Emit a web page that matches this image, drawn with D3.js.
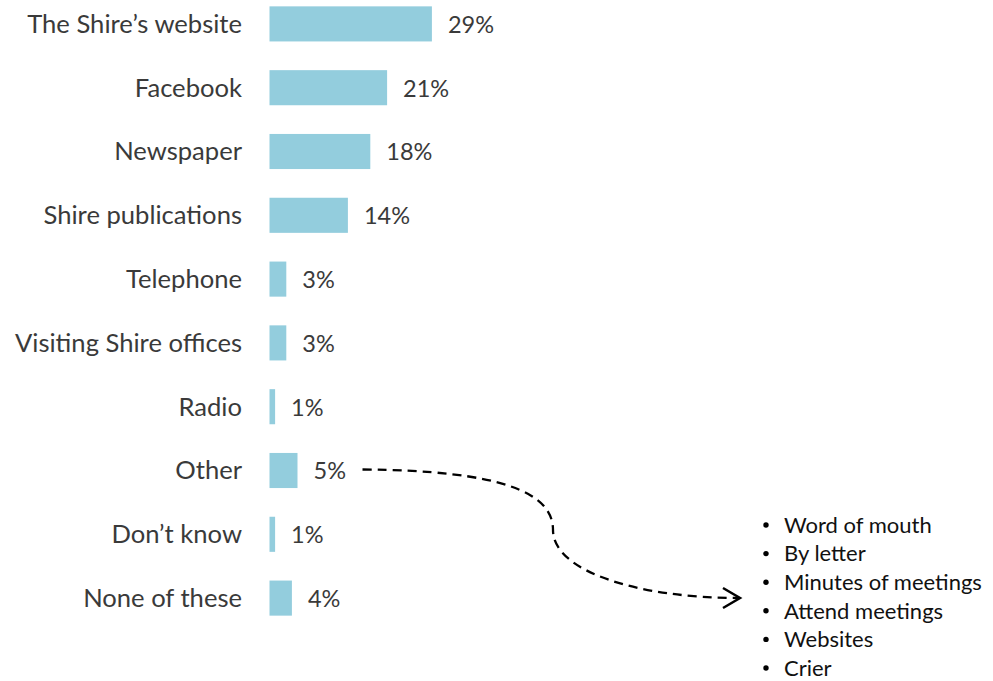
<!DOCTYPE html>
<html>
<head>
<meta charset="utf-8">
<script src="https://cdn.jsdelivr.net/npm/d3@7"></script>
<style>
  html, body { margin: 0; padding: 0; background: #fff; }
  svg { display: block; }
  text { font-family: Lato, "Open Sans", sans-serif; fill: #3a3a3a; }
</style>
</head>
<body>
<svg id="chart" width="993" height="681"></svg>
<script>
// Sources of information about the Shire (share of respondents, %)
const categories = [
  "The Shire’s website", "Facebook", "Newspaper", "Shire publications",
  "Telephone", "Visiting Shire offices", "Radio", "Other", "Don’t know", "None of these"
];
const values = [29, 21, 18, 14, 3, 3, 1, 5, 1, 4];
// Breakdown of the "Other" answers
const otherItems = ["Word of mouth", "By letter", "Minutes of meetings", "Attend meetings", "Websites", "Crier"];

const data = categories.map((c, i) => ({ category: c, value: values[i] }));

const svg = d3.select("#chart");
const barColor = "#93cddd";

const x = d3.scaleLinear().domain([0, 100]).range([269.5, 829.5]);
const y = d3.scaleBand().domain(categories).range([-8, 630])
  .paddingInner(0.45).paddingOuter(0.225);

// Category labels (right aligned, left of the bars)
svg.append("g").selectAll("text").data(data).join("text")
  .attr("x", 242)
  .attr("y", d => y(d.category) + y.bandwidth() / 2)
  .attr("dy", "0.35em")
  .attr("text-anchor", "end")
  .style("font-size", "25.6px")
  .text(d => d.category);

// Bars
svg.append("g").selectAll("rect").data(data).join("rect")
  .attr("x", x(0))
  .attr("y", d => y(d.category))
  .attr("width", d => x(d.value) - x(0))
  .attr("height", y.bandwidth())
  .attr("fill", barColor);

// Value labels
svg.append("g").selectAll("text").data(data).join("text")
  .attr("x", d => x(d.value) + 16)
  .attr("y", d => y(d.category) + y.bandwidth() / 2)
  .attr("dy", "0.38em")
  .style("font-size", "23.5px")
  .text(d => d.value + "%");

// Dashed arrow from the "Other" label to its breakdown list
const otherRow = data.find(d => d.category === "Other");
const ay = y(otherRow.category) + y.bandwidth() / 2;
const ax = x(otherRow.value) + 65;
const path = d3.path();
path.moveTo(ax, ay - 1);
path.bezierCurveTo(500, ay, 553, 492, 553, 530);
path.bezierCurveTo(553, 572, 640, 598, 738, 598);
svg.append("path")
  .attr("d", path.toString())
  .attr("fill", "none")
  .attr("stroke", "#000")
  .attr("stroke-width", 2.3)
  .attr("stroke-dasharray", "9,6");
svg.append("path")
  .attr("d", "M723,588 L740,598 L723,608")
  .attr("fill", "none")
  .attr("stroke", "#000")
  .attr("stroke-width", 2.5);

// Bulleted list of "Other" answers
const list = svg.append("g");
list.selectAll("text.item").data(otherItems).join("text")
  .attr("class", "item")
  .attr("x", 784)
  .attr("y", (d, i) => 525 + i * 28.6)
  .attr("dy", "0.35em")
  .style("font-size", "22px")
  .style("fill", "#111")
  .text(d => d);
list.selectAll("circle").data(otherItems).join("circle")
  .attr("cx", 766)
  .attr("cy", (d, i) => 525 + i * 28.6)
  .attr("r", 2.7)
  .attr("fill", "#000");
</script>
</body>
</html>
